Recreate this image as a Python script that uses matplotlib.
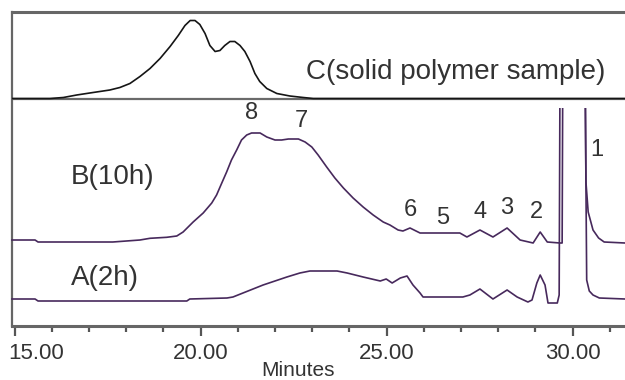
import numpy as np
import matplotlib
matplotlib.use('Agg')
import matplotlib.pyplot as plt
import matplotlib.transforms as mtransforms
from matplotlib.patches import Rectangle

plt.rcParams['font.family'] = ['Liberation Sans', 'DejaVu Sans']

# retention time (min) / detector signal
C_t = [14.93, 15.95, 16.31, 16.67, 17.11, 17.56, 17.83, 18.10, 18.37, 18.64, 18.91, 19.18,
       19.40, 19.58, 19.72, 19.85, 19.98, 20.12, 20.25, 20.39, 20.52, 20.65, 20.79, 20.92,
       21.06, 21.19, 21.33, 21.46, 21.59, 21.78, 22.05, 22.40, 22.76, 23.03, 31.41]
C_sig = [0, 0, 1, 3.5, 6, 8.5, 11, 15, 22, 30, 40, 52,
         63, 73, 78, 78, 74, 65, 53, 47, 48, 53, 57, 57,
         53, 47, 37, 25, 17, 10, 5, 2.5, 1, 0, 0]

B_t = [14.93, 15.55, 15.63, 17.64, 18.37, 18.64, 19.09, 19.36, 19.53, 19.80, 20.07, 20.30,
       20.43, 20.57, 20.70, 20.83, 20.97, 21.10, 21.24, 21.37, 21.60, 21.78, 22.00, 22.18,
       22.36, 22.63, 22.81, 22.99, 23.16, 23.39, 23.61, 23.84, 24.10, 24.37, 24.64, 24.91,
       25.09, 25.31, 25.44, 25.63, 25.90, 26.25, 26.97, 27.16, 27.51, 27.86, 28.24, 28.59,
       28.94, 29.13, 29.32, 29.66, 29.72, 29.76, 30.30, 30.36, 30.42, 30.55, 30.70, 30.85,
       31.41]
B_sig = [1, 1, -1, -1, 1, 2.7, 3.7, 5, 9, 19, 28, 38,
         46, 58, 69, 81, 91, 101, 106, 108, 108, 104, 101, 101,
         102, 102, 99, 94, 86, 74, 63, 53, 43, 34, 26, 19,
         16, 11, 10, 13, 8, 8, 8, 4, 11, 4, 13, 1,
         -2, 9, -1, -2, -2, 400, 400, 59, 29, 11, 3, -1,
         -2]

A_t = [14.93, 15.55, 15.63, 19.63, 19.71, 20.71, 20.87, 21.68, 22.32, 22.67, 22.94, 23.67,
       23.94, 24.37, 24.83, 24.99, 25.15, 25.37, 25.55, 25.71, 25.90, 25.98, 26.25, 27.05,
       27.24, 27.51, 27.86, 28.24, 28.51, 28.80, 28.91, 29.04, 29.13, 29.26, 29.34, 29.59,
       29.64, 29.68, 30.30, 30.38, 30.45, 30.55, 30.72, 31.41]
A_sig = [1, 1, -1, -1, 1, 2, 3, 15, 23, 27, 29, 29,
         27, 23, 19, 21, 17, 22, 24, 15, 7, 3, 3, 3,
         5, 11, 1, 10, 3, -2, 0, 17, 25, 15, -3, -3,
         5, 400, 400, 20, 9, 5, 2, 1]

peak_no = ['8', '7', '6', '5', '4', '3', '2', '1']
peak_t = [21.38, 22.72, 25.63, 26.52, 27.51, 28.24, 29.04, 30.66]
peak_y = [213, 205, 116, 108, 114, 118, 114, 176]

minor_ticks = np.arange(15, 32, 1)
major_ticks = [15, 20, 25, 30]
tick_lab = ['15.00', '20.00', '25.00', '30.00']

# vertical offsets of the stacked traces
OFF_A, OFF_B, OFF_C = 26, 85, 227.5
TOP = 218   # detector off-scale

fig = plt.figure(figsize=(6.25, 3.8), dpi=100)
ax = fig.add_axes([12/625, 1-326/380, 1-12/625, (326-12)/380])
ax.set_xlim(14.93, 31.41)
ax.set_ylim(0, 314)

purple = '#47295c'
ax.axhline(OFF_C, color='#6a6a6a', lw=1.6, zorder=1)
ax.plot(C_t, np.array(C_sig) + OFF_C, color='#151515', lw=1.2, zorder=3)
lb, = ax.plot(B_t, np.array(B_sig) + OFF_B, color=purple, lw=1.2, zorder=3)
la, = ax.plot(A_t, np.array(A_sig) + OFF_A, color=purple, lw=1.2, zorder=3)
clip = Rectangle((14.9, -5), 17, TOP + 5, transform=ax.transData)
lb.set_clip_path(clip)
la.set_clip_path(clip)

txt = '#333333'
for s, t, y in zip(peak_no, peak_t, peak_y):
    ax.text(t, y, s, fontsize=17, color=txt, ha='center', va='center')
ax.text(17.64, 149, 'B(10h)', fontsize=20, color=txt, ha='center', va='center')
ax.text(17.43, 48, 'A(2h)', fontsize=20, color=txt, ha='center', va='center')
ax.text(26.87, 254, 'C(solid polymer sample)', fontsize=20, color=txt, ha='center', va='center')

for sp in ['top', 'left', 'bottom']:
    ax.spines[sp].set_color('#666666')
ax.spines['top'].set_linewidth(2.2)
ax.spines['bottom'].set_linewidth(2.2)
ax.spines['left'].set_linewidth(1.6)
ax.spines['right'].set_visible(False)

ax.set_yticks([])
ax.set_xticks(major_ticks)
ax.set_xticklabels(tick_lab)
ax.set_xticks(minor_ticks, minor=True)
ax.tick_params(axis='x', which='minor', direction='out', length=4, width=1.6, color='#555555')
ax.tick_params(axis='x', which='major', direction='out', length=7, width=1.6,
               color='#555555', labelsize=16, labelcolor=txt, pad=5)
first = ax.get_xticklabels()[0]
first.set_horizontalalignment('left')
first.set_transform(first.get_transform() + mtransforms.ScaledTranslation(-6/100, 0, fig.dpi_scale_trans))

fig.text(298/625, 1-370/380, 'Minutes', fontsize=15, color=txt, ha='center', va='center')

fig.savefig('out.png', dpi=100)
